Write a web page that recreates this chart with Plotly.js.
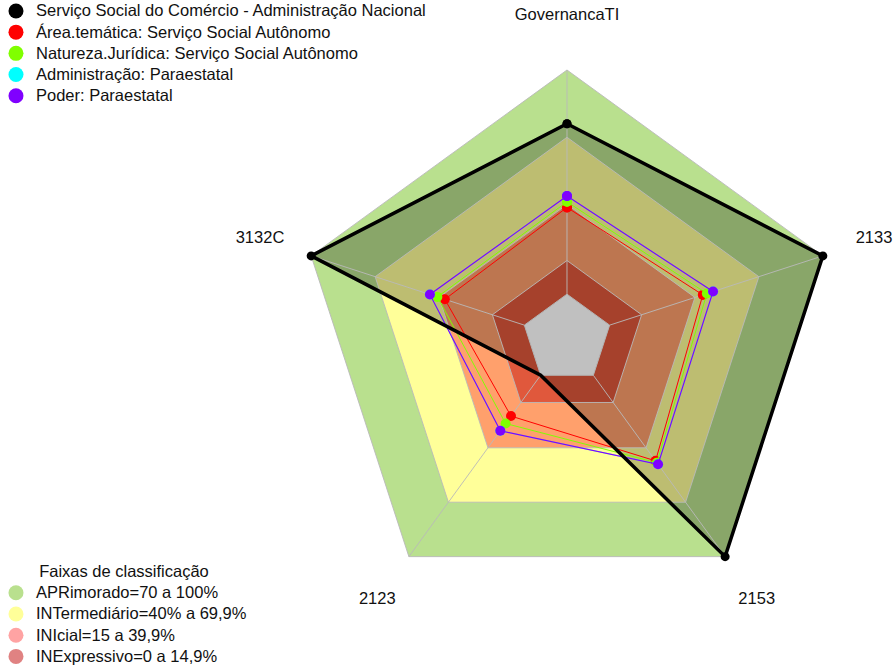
<!DOCTYPE html>
<html><head><meta charset="utf-8">
<script src="https://cdn.plot.ly/plotly-3.0.1.min.js"></script>
<style>html,body{margin:0;padding:0;background:#fff}</style>
</head><body><div id="chart" style="width:893px;height:666px"></div>
<script>
// ---- data ----
const axesLabels = ['GovernancaTI', '2133', '2153', '2123', '3132C'];
const seriesNames = [
  'Serviço Social do Comércio - Administração Nacional',
  'Área.temática: Serviço Social Autônomo',
  'Natureza.Jurídica: Serviço Social Autônomo',
  'Administração: Paraestatal',
  'Poder: Paraestatal'
];
const sescAN = [76, 100, 100, 0, 100];
const areaTematica = [38.7, 43.7, 47.2, 22.5, 37.3];
const naturezaJuridica = [41.2, 45.6, 48.2, 26.6, 40.8];
const administracao = [43.8, 48.5, 49.1, 30.6, 44.3];
const poder = [43.8, 48.5, 49.1, 30.6, 44.3];
const legendTitle = 'Faixas de classificação';
const bandNames = ['APRimorado=70 a 100%', 'INTermediário=40% a 69,9%', 'INIcial=15 a 39,9%', 'INExpressivo=0 a 14,9%'];
const bandUpper = [100, 70, 40, 15];
const centerLimit = 0;
const radialMin = -20;
const radialMax = 125;
const labelValue = 124;

// ---- styles ----
const bandColors = ['#b9e08e', '#ffff99', '#ffa06c', '#e0583c'];
const bandLegendColors = ['#b9e08e', '#ffff99', '#ffa3a3', '#e08282'];
const seriesColors = ['#000000', '#ff0000', '#80ff00', '#00ffff', '#8000ff'];
const FONT = 'Liberation Sans, Arial, sans-serif';
const big = t => '<span style="font-size:16.5px">' + t + '</span>';

const close = a => a.concat([a[0]]);
const theta = close(axesLabels);
const ring = v => close(axesLabels.map(() => v));

const traces = [];
// bands
bandUpper.forEach((u, i) => {
  traces.push({type: 'scatterpolar', r: ring(u), theta: theta, mode: 'lines', fill: 'toself',
    fillcolor: bandColors[i], line: {width: 0, color: bandColors[i]}, showlegend: false, hoverinfo: 'skip'});
});
// black series fill
traces.push({type: 'scatterpolar', r: close(sescAN), theta: theta, mode: 'lines', fill: 'toself',
  fillcolor: 'rgba(0,0,0,0.26)', line: {width: 0}, showlegend: false, hoverinfo: 'skip'});
// gray centre
traces.push({type: 'scatterpolar', r: ring(centerLimit), theta: theta, mode: 'lines', fill: 'toself',
  fillcolor: '#c0c0c0', line: {width: 1, color: '#b4b4b4'}, showlegend: false, hoverinfo: 'skip'});
// grid rings
bandUpper.forEach(u => {
  traces.push({type: 'scatterpolar', r: ring(u), theta: theta, mode: 'lines',
    line: {width: 1, color: 'rgba(185,185,185,0.9)'}, showlegend: false, hoverinfo: 'skip'});
});
// spokes
const spokeR = [], spokeT = [];
axesLabels.forEach(a => { spokeR.push(centerLimit, bandUpper[0], null); spokeT.push(a, a, null); });
traces.push({type: 'scatterpolar', r: spokeR, theta: spokeT, mode: 'lines',
  line: {width: 1, color: 'rgba(185,185,185,0.9)'}, showlegend: false, hoverinfo: 'skip'});
// thin series
const thin = [areaTematica, naturezaJuridica, administracao, poder];
const thinWidths = [1, 1, 0.7, 1.15];
thin.forEach((vals, i) => {
  traces.push({type: 'scatterpolar', r: close(vals), theta: theta, mode: 'lines+markers', name: seriesNames[i + 1],
    line: {width: thinWidths[i], color: seriesColors[i + 1]}, marker: {size: 10, color: seriesColors[i + 1]}, showlegend: false});
});
// black series line
traces.push({type: 'scatterpolar', r: close(sescAN), theta: theta, mode: 'lines+markers', name: seriesNames[0],
  line: {width: 3.5, color: '#000'}, marker: {size: 9, color: '#000'}, showlegend: false});
// axis labels
traces.push({type: 'scatterpolar', r: axesLabels.map(() => labelValue), theta: axesLabels, mode: 'text',
  text: axesLabels, textposition: 'middle center', textfont: {family: FONT, size: 16.5, color: '#111'},
  cliponaxis: false, showlegend: false, hoverinfo: 'skip'});
// legend entries
seriesNames.forEach((n, i) => {
  traces.push({type: 'scatterpolar', r: [null], theta: [null], mode: 'markers', name: big(n),
    marker: {size: 15, color: seriesColors[i]}, legend: 'legend'});
});
bandNames.forEach((n, i) => {
  traces.push({type: 'scatterpolar', r: [null], theta: [null], mode: 'markers', name: big(n),
    marker: {size: 15, color: bandLegendColors[i]}, legend: 'legend2'});
});

const W = 893, H = 666, cx = 567, cy = 339, R100 = 269;
const R = R100 * (radialMax - radialMin) / (100 - radialMin);
const layout = {
  width: W, height: H, margin: {l: 0, r: 0, t: 0, b: 0, autoexpand: false},
  paper_bgcolor: '#fff', font: {family: FONT, size: 16, color: '#111'},
  polar: {
    domain: {x: [(cx - R) / W, Math.min(1, (cx + R) / W)], y: [(H - cy - R) / H, (H - cy + R) / H]},
    gridshape: 'linear', bgcolor: 'rgba(0,0,0,0)',
    radialaxis: {range: [radialMin, radialMax], visible: false, showgrid: false},
    angularaxis: {type: 'category', categoryarray: axesLabels, rotation: 90, direction: 'clockwise',
      showticklabels: false, ticks: '', showline: false, showgrid: false}
  },
  showlegend: true,
  legend: {x: -0.0045, y: 1.007, xanchor: 'left', yanchor: 'top', bgcolor: 'rgba(0,0,0,0)',
    font: {family: FONT, size: 14, color: '#111'}, tracegroupgap: 0},
  legend2: {x: -0.0045, y: -0.009, xanchor: 'left', yanchor: 'bottom', bgcolor: 'rgba(0,0,0,0)',
    font: {family: FONT, size: 14, color: '#111'}, tracegroupgap: 0,
    title: {text: big(legendTitle), side: 'top center', font: {family: FONT, size: 14, color: '#111'}}}
};
Plotly.newPlot('chart', traces, layout, {displayModeBar: false, staticPlot: true});
</script></body></html>
